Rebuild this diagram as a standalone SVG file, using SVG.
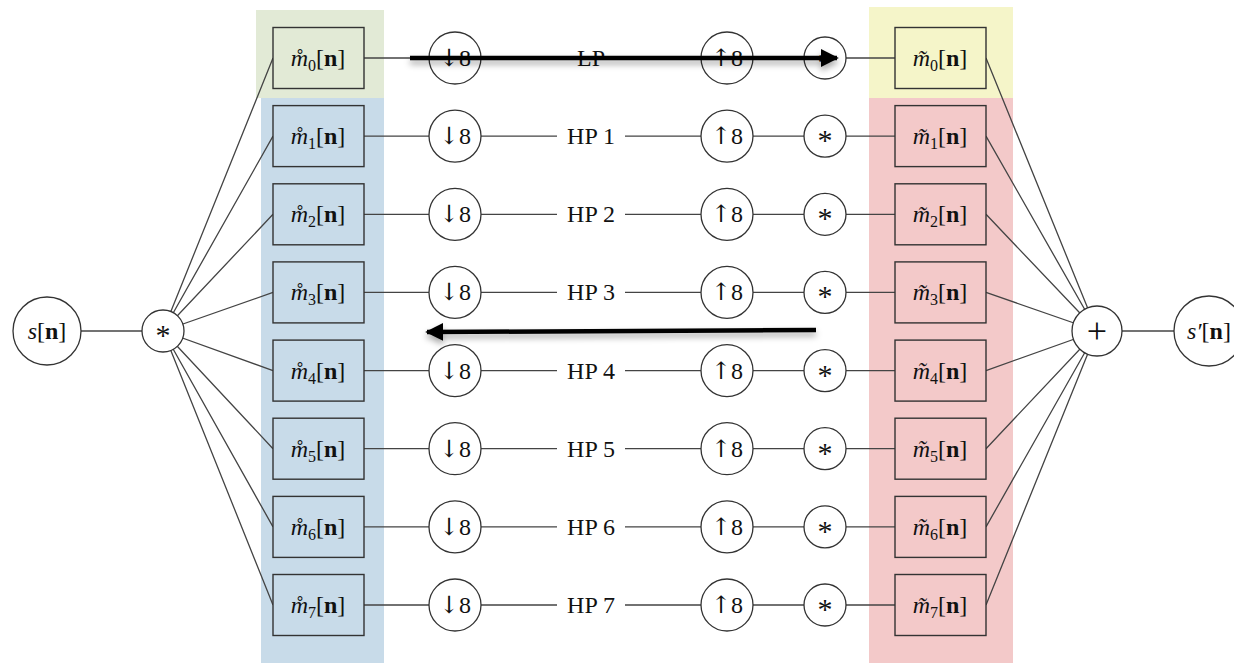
<svg xmlns="http://www.w3.org/2000/svg" width="1234" height="663" viewBox="0 0 1234 663">
<style>
.ln{stroke:#444;stroke-width:1.3;fill:none}
.circ{fill:#fff;stroke:#333;stroke-width:1.3}
.box{stroke:#333;stroke-width:1.4}
.t{font-family:"Liberation Serif","Times New Roman",serif;font-size:24px;fill:#111;text-anchor:middle}
.ar{font-family:"DejaVu Serif","DejaVu Sans",serif;font-size:24px}
.st{font-size:30px}
.pl{font-size:36px}
.big{stroke:#000;stroke-width:4.5;fill:none}
</style>
<defs>
<marker id="ah" viewBox="0 0 10 10" refX="9" refY="5" markerWidth="4" markerHeight="4" orient="auto" markerUnits="strokeWidth">
<path d="M0,0 L10,5 L0,10 z" fill="#000"/>
</marker>
<filter id="sh" x="-10%" y="-200%" width="120%" height="500%">
<feDropShadow dx="0" dy="4" stdDeviation="3" flood-color="#000" flood-opacity="0.35"/>
</filter>
</defs>
<rect width="1234" height="663" fill="#fff"/>
<rect x="256" y="10" width="128" height="88" fill="#e2ead6"/>
<rect x="261" y="98" width="123" height="565" fill="#c8dbe9"/>
<rect x="869" y="7" width="144" height="91" fill="#f5f5c9"/>
<rect x="869" y="98" width="144" height="565" fill="#f3c9c9"/>
<g id="connectors">
<line class="ln" x1="81" y1="331" x2="142" y2="331"/>
<line class="ln" x1="1122" y1="331" x2="1174" y2="331"/>
<path class="ln" d="M163,331 L273,58 M163,331 L273,136.1 M163,331 L273,214.3 M163,331 L273,292.4 M163,331 L273,370.6 M163,331 L273,448.7 M163,331 L273,526.9 M163,331 L273,605"/>
<path class="ln" d="M1097,331 L986,58 M1097,331 L986,136.1 M1097,331 L986,214.3 M1097,331 L986,292.4 M1097,331 L986,370.6 M1097,331 L986,448.7 M1097,331 L986,526.9 M1097,331 L986,605"/>
<path class="ln" d="M364,58H429M481,58H557M625,58H701M753,58H804M846,58H895"/>
<path class="ln" d="M364,136.1H429M481,136.1H557M625,136.1H701M753,136.1H804M846,136.1H895"/>
<path class="ln" d="M364,214.3H429M481,214.3H557M625,214.3H701M753,214.3H804M846,214.3H895"/>
<path class="ln" d="M364,292.4H429M481,292.4H557M625,292.4H701M753,292.4H804M846,292.4H895"/>
<path class="ln" d="M364,370.6H429M481,370.6H557M625,370.6H701M753,370.6H804M846,370.6H895"/>
<path class="ln" d="M364,448.7H429M481,448.7H557M625,448.7H701M753,448.7H804M846,448.7H895"/>
<path class="ln" d="M364,526.9H429M481,526.9H557M625,526.9H701M753,526.9H804M846,526.9H895"/>
<path class="ln" d="M364,605H429M481,605H557M625,605H701M753,605H804M846,605H895"/>
</g>
<g id="src"><circle class="circ" cx="47" cy="331" r="34"/><text class="t" x="47" y="339"><tspan font-style="italic">s</tspan>[<tspan font-weight="bold">n</tspan>]</text></g>
<g id="conv"><circle class="circ" cx="163" cy="331" r="21"/><text class="t st" x="163" y="345">*</text></g>
<g id="sum"><circle class="circ" cx="1097" cy="331" r="25"/><text class="t pl" x="1097" y="343">+</text></g>
<g id="out"><circle class="circ" cx="1209" cy="331" r="35"/><text class="t" x="1209" y="339"><tspan font-style="italic">s′</tspan>[<tspan font-weight="bold">n</tspan>]</text></g>

<g id="row0">
<rect class="box" x="273" y="27.5" width="91" height="61" fill="#e2ead6"/>
<text class="t" x="318" y="66"><tspan font-style="italic">m&#x30A;</tspan><tspan font-size="16" dy="5">0</tspan><tspan dy="-5">[</tspan><tspan font-weight="bold">n</tspan>]</text>
<circle class="circ" cx="455" cy="58" r="26"/><text class="t" x="455" y="66"><tspan class="ar">↓</tspan>8</text>
<text class="t" x="591" y="66">LP</text>
<circle class="circ" cx="727" cy="58" r="26"/><text class="t" x="727" y="66"><tspan class="ar">↑</tspan>8</text>
<circle class="circ" cx="825" cy="58" r="21"/><text class="t st" x="825" y="72">*</text>
<rect class="box" x="895" y="27.5" width="91" height="61" fill="#f5f5c9"/>
<text class="t" x="940" y="66"><tspan font-style="italic">m&#x303;</tspan><tspan font-size="16" dy="5">0</tspan><tspan dy="-5">[</tspan><tspan font-weight="bold">n</tspan>]</text>
</g>
<g id="row1">
<rect class="box" x="273" y="105.6" width="91" height="61" fill="#c8dbe9"/>
<text class="t" x="318" y="144.1"><tspan font-style="italic">m&#x30A;</tspan><tspan font-size="16" dy="5">1</tspan><tspan dy="-5">[</tspan><tspan font-weight="bold">n</tspan>]</text>
<circle class="circ" cx="455" cy="136.1" r="26"/><text class="t" x="455" y="144.1"><tspan class="ar">↓</tspan>8</text>
<text class="t" x="591" y="144.1">HP 1</text>
<circle class="circ" cx="727" cy="136.1" r="26"/><text class="t" x="727" y="144.1"><tspan class="ar">↑</tspan>8</text>
<circle class="circ" cx="825" cy="136.1" r="21"/><text class="t st" x="825" y="150.1">*</text>
<rect class="box" x="895" y="105.6" width="91" height="61" fill="#f3c9c9"/>
<text class="t" x="940" y="144.1"><tspan font-style="italic">m&#x303;</tspan><tspan font-size="16" dy="5">1</tspan><tspan dy="-5">[</tspan><tspan font-weight="bold">n</tspan>]</text>
</g>
<g id="row2">
<rect class="box" x="273" y="183.8" width="91" height="61" fill="#c8dbe9"/>
<text class="t" x="318" y="222.3"><tspan font-style="italic">m&#x30A;</tspan><tspan font-size="16" dy="5">2</tspan><tspan dy="-5">[</tspan><tspan font-weight="bold">n</tspan>]</text>
<circle class="circ" cx="455" cy="214.3" r="26"/><text class="t" x="455" y="222.3"><tspan class="ar">↓</tspan>8</text>
<text class="t" x="591" y="222.3">HP 2</text>
<circle class="circ" cx="727" cy="214.3" r="26"/><text class="t" x="727" y="222.3"><tspan class="ar">↑</tspan>8</text>
<circle class="circ" cx="825" cy="214.3" r="21"/><text class="t st" x="825" y="228.3">*</text>
<rect class="box" x="895" y="183.8" width="91" height="61" fill="#f3c9c9"/>
<text class="t" x="940" y="222.3"><tspan font-style="italic">m&#x303;</tspan><tspan font-size="16" dy="5">2</tspan><tspan dy="-5">[</tspan><tspan font-weight="bold">n</tspan>]</text>
</g>
<g id="row3">
<rect class="box" x="273" y="261.9" width="91" height="61" fill="#c8dbe9"/>
<text class="t" x="318" y="300.4"><tspan font-style="italic">m&#x30A;</tspan><tspan font-size="16" dy="5">3</tspan><tspan dy="-5">[</tspan><tspan font-weight="bold">n</tspan>]</text>
<circle class="circ" cx="455" cy="292.4" r="26"/><text class="t" x="455" y="300.4"><tspan class="ar">↓</tspan>8</text>
<text class="t" x="591" y="300.4">HP 3</text>
<circle class="circ" cx="727" cy="292.4" r="26"/><text class="t" x="727" y="300.4"><tspan class="ar">↑</tspan>8</text>
<circle class="circ" cx="825" cy="292.4" r="21"/><text class="t st" x="825" y="306.4">*</text>
<rect class="box" x="895" y="261.9" width="91" height="61" fill="#f3c9c9"/>
<text class="t" x="940" y="300.4"><tspan font-style="italic">m&#x303;</tspan><tspan font-size="16" dy="5">3</tspan><tspan dy="-5">[</tspan><tspan font-weight="bold">n</tspan>]</text>
</g>
<g id="row4">
<rect class="box" x="273" y="340.1" width="91" height="61" fill="#c8dbe9"/>
<text class="t" x="318" y="378.6"><tspan font-style="italic">m&#x30A;</tspan><tspan font-size="16" dy="5">4</tspan><tspan dy="-5">[</tspan><tspan font-weight="bold">n</tspan>]</text>
<circle class="circ" cx="455" cy="370.6" r="26"/><text class="t" x="455" y="378.6"><tspan class="ar">↓</tspan>8</text>
<text class="t" x="591" y="378.6">HP 4</text>
<circle class="circ" cx="727" cy="370.6" r="26"/><text class="t" x="727" y="378.6"><tspan class="ar">↑</tspan>8</text>
<circle class="circ" cx="825" cy="370.6" r="21"/><text class="t st" x="825" y="384.6">*</text>
<rect class="box" x="895" y="340.1" width="91" height="61" fill="#f3c9c9"/>
<text class="t" x="940" y="378.6"><tspan font-style="italic">m&#x303;</tspan><tspan font-size="16" dy="5">4</tspan><tspan dy="-5">[</tspan><tspan font-weight="bold">n</tspan>]</text>
</g>
<g id="row5">
<rect class="box" x="273" y="418.2" width="91" height="61" fill="#c8dbe9"/>
<text class="t" x="318" y="456.7"><tspan font-style="italic">m&#x30A;</tspan><tspan font-size="16" dy="5">5</tspan><tspan dy="-5">[</tspan><tspan font-weight="bold">n</tspan>]</text>
<circle class="circ" cx="455" cy="448.7" r="26"/><text class="t" x="455" y="456.7"><tspan class="ar">↓</tspan>8</text>
<text class="t" x="591" y="456.7">HP 5</text>
<circle class="circ" cx="727" cy="448.7" r="26"/><text class="t" x="727" y="456.7"><tspan class="ar">↑</tspan>8</text>
<circle class="circ" cx="825" cy="448.7" r="21"/><text class="t st" x="825" y="462.7">*</text>
<rect class="box" x="895" y="418.2" width="91" height="61" fill="#f3c9c9"/>
<text class="t" x="940" y="456.7"><tspan font-style="italic">m&#x303;</tspan><tspan font-size="16" dy="5">5</tspan><tspan dy="-5">[</tspan><tspan font-weight="bold">n</tspan>]</text>
</g>
<g id="row6">
<rect class="box" x="273" y="496.4" width="91" height="61" fill="#c8dbe9"/>
<text class="t" x="318" y="534.9"><tspan font-style="italic">m&#x30A;</tspan><tspan font-size="16" dy="5">6</tspan><tspan dy="-5">[</tspan><tspan font-weight="bold">n</tspan>]</text>
<circle class="circ" cx="455" cy="526.9" r="26"/><text class="t" x="455" y="534.9"><tspan class="ar">↓</tspan>8</text>
<text class="t" x="591" y="534.9">HP 6</text>
<circle class="circ" cx="727" cy="526.9" r="26"/><text class="t" x="727" y="534.9"><tspan class="ar">↑</tspan>8</text>
<circle class="circ" cx="825" cy="526.9" r="21"/><text class="t st" x="825" y="540.9">*</text>
<rect class="box" x="895" y="496.4" width="91" height="61" fill="#f3c9c9"/>
<text class="t" x="940" y="534.9"><tspan font-style="italic">m&#x303;</tspan><tspan font-size="16" dy="5">6</tspan><tspan dy="-5">[</tspan><tspan font-weight="bold">n</tspan>]</text>
</g>
<g id="row7">
<rect class="box" x="273" y="574.5" width="91" height="61" fill="#c8dbe9"/>
<text class="t" x="318" y="613"><tspan font-style="italic">m&#x30A;</tspan><tspan font-size="16" dy="5">7</tspan><tspan dy="-5">[</tspan><tspan font-weight="bold">n</tspan>]</text>
<circle class="circ" cx="455" cy="605" r="26"/><text class="t" x="455" y="613"><tspan class="ar">↓</tspan>8</text>
<text class="t" x="591" y="613">HP 7</text>
<circle class="circ" cx="727" cy="605" r="26"/><text class="t" x="727" y="613"><tspan class="ar">↑</tspan>8</text>
<circle class="circ" cx="825" cy="605" r="21"/><text class="t st" x="825" y="619">*</text>
<rect class="box" x="895" y="574.5" width="91" height="61" fill="#f3c9c9"/>
<text class="t" x="940" y="613"><tspan font-style="italic">m&#x303;</tspan><tspan font-size="16" dy="5">7</tspan><tspan dy="-5">[</tspan><tspan font-weight="bold">n</tspan>]</text>
</g>
<g id="arrows" filter="url(#sh)">
<line class="big" x1="410" y1="58" x2="837" y2="58" marker-end="url(#ah)"/>
<line class="big" x1="816" y1="330" x2="427" y2="332" marker-end="url(#ah)"/>
</g>
</svg>
